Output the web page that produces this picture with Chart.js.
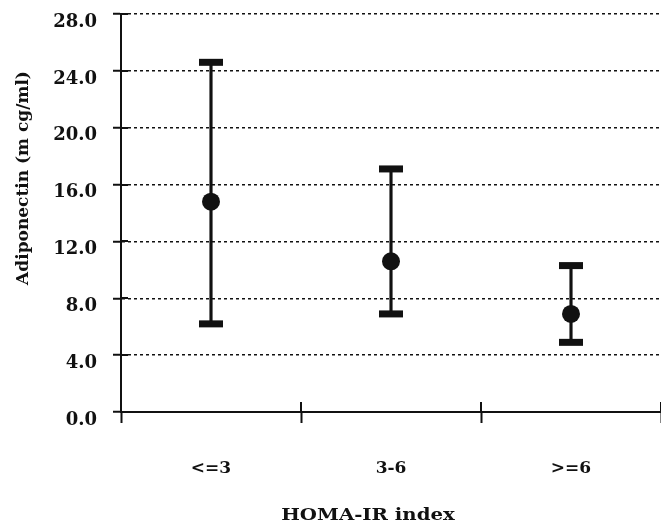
<!DOCTYPE html>
<html>
<head>
<meta charset="utf-8">
<script src="https://cdn.jsdelivr.net/npm/chart.js@4.4.1/dist/chart.umd.min.js"></script>
<style>
	body { margin: 0; background: #fff; }
	#wrap { width: 661px; height: 526px; }
</style>
</head>
<body>
<div id="wrap"><canvas id="mycanvas" width="661" height="526"></canvas></div>
<script>
// HOMA-IR groups
var categories = ['<=3', '3-6', '>=6'];
var means = [14.8, 10.6, 6.9];
var upper = [24.6, 17.1, 10.3];
var lower = [6.2, 6.9, 4.9];
var yTicks = [0, 4, 8, 12, 16, 20, 24, 28];

var xTitle = 'HOMA-IR index';
var yTitle = 'Adiponectin (m cg/ml)';

var fontFamily = "'DejaVu Serif', 'Liberation Serif', serif";

var whiskers = [];
for (var i in categories) {
	whiskers.push([lower[i], upper[i]]);
}

// axis titles sit off-centre in the original, so place them by hand
// also the tick marks cross the axis lines
var axisExtras = {
	id: 'axisExtras',
	afterDraw: function(chart) {
		var ctx = chart.ctx;
		var xs = chart.scales.x;
		var ys = chart.scales.y;
		ctx.save();
		ctx.strokeStyle = '#111';
		ctx.lineWidth = 2;
		var step = (xs.right - xs.left) / categories.length;
		for (var k = 1; k <= categories.length; k++) {
			var px = Math.round(xs.left + k * step);
			ctx.beginPath();
			ctx.moveTo(px, xs.top - 10);
			ctx.lineTo(px, xs.top);
			ctx.stroke();
		}
		for (var j in yTicks) {
			var py = Math.round(ys.getPixelForValue(yTicks[j]));
			ctx.beginPath();
			ctx.moveTo(ys.right, py);
			ctx.lineTo(ys.right + 7, py);
			ctx.stroke();
		}
		ctx.fillStyle = '#111';
		ctx.font = 'bold 17px ' + fontFamily;
		ctx.textAlign = 'center';
		ctx.textBaseline = 'middle';
		ctx.save();
		ctx.translate(368, 516);
		ctx.scale(1.16, 1);
		ctx.fillText(xTitle, 0, 0);
		ctx.restore();
		ctx.translate(24, 178);
		ctx.rotate(-Math.PI / 2);
		ctx.fillText(yTitle, 0, 0);
		ctx.restore();
	}
};

var ctx = document.getElementById('mycanvas');

var chart = new Chart(ctx, {
	type: 'bar',
	data: {
		labels: categories,
		datasets: [
			{
				type: 'line',
				label: 'mean',
				data: means,
				showLine: false,
				pointRadius: 9,
				pointBackgroundColor: '#111',
				pointBorderColor: '#111',
				pointBorderWidth: 0,
				order: 0
			},
			{
				type: 'line',
				label: 'upper',
				data: upper,
				showLine: false,
				pointStyle: 'line',
				pointRadius: 12,
				pointBorderWidth: 7,
				pointBorderColor: '#111',
				order: 1
			},
			{
				type: 'line',
				label: 'lower',
				data: lower,
				showLine: false,
				pointStyle: 'line',
				pointRadius: 12,
				pointBorderWidth: 7,
				pointBorderColor: '#111',
				order: 1
			},
			{
				label: 'range',
				data: whiskers,
				backgroundColor: '#111',
				borderWidth: 0,
				barThickness: 2.5,
				order: 2
			}
		]
	},
	plugins: [axisExtras],
	options: {
		responsive: false,
		animation: false,
		devicePixelRatio: 1,
		layout: { autoPadding: false, padding: { top: 14, right: 0, bottom: 0, left: 0 } },
		plugins: {
			legend: { display: false },
			tooltip: { enabled: false }
		},
		scales: {
			x: {
				offset: true,
				afterFit: function(scale) {
					scale.height = 114;
					scale.paddingLeft = 0;
					scale.paddingRight = 0;
				},
				grid: {
					offset: true,
					drawOnChartArea: false,
					drawTicks: true,
					tickLength: 11,
					tickWidth: 2,
					tickColor: '#111'
				},
				border: { display: true, color: '#111', width: 2 },
				ticks: {
					color: '#111',
					padding: 35,
					font: { family: fontFamily, size: 17, weight: 'bold' }
				}
			},
			y: {
				min: 0,
				max: 28,
				afterFit: function(scale) {
					scale.width = 121;
					scale.paddingTop = 0;
					scale.paddingBottom = 0;
				},
				afterBuildTicks: function(scale) {
					scale.ticks = yTicks.map(function(v) { return { value: v }; });
				},
				grid: {
					color: '#111',
					lineWidth: 1.5,
					drawTicks: true,
					tickLength: 8,
					tickWidth: 2,
					tickColor: '#111',
					tickBorderDash: []
				},
				border: { display: true, color: '#111', width: 2, dash: [3, 3] },
				ticks: {
					color: '#111',
					padding: 16,
					labelOffset: 8,
					font: { family: fontFamily, size: 18, weight: 'bold' },
					callback: function(v) { return Number(v).toFixed(1); }
				}
			}
		}
	}
});
</script>
</body>
</html>
